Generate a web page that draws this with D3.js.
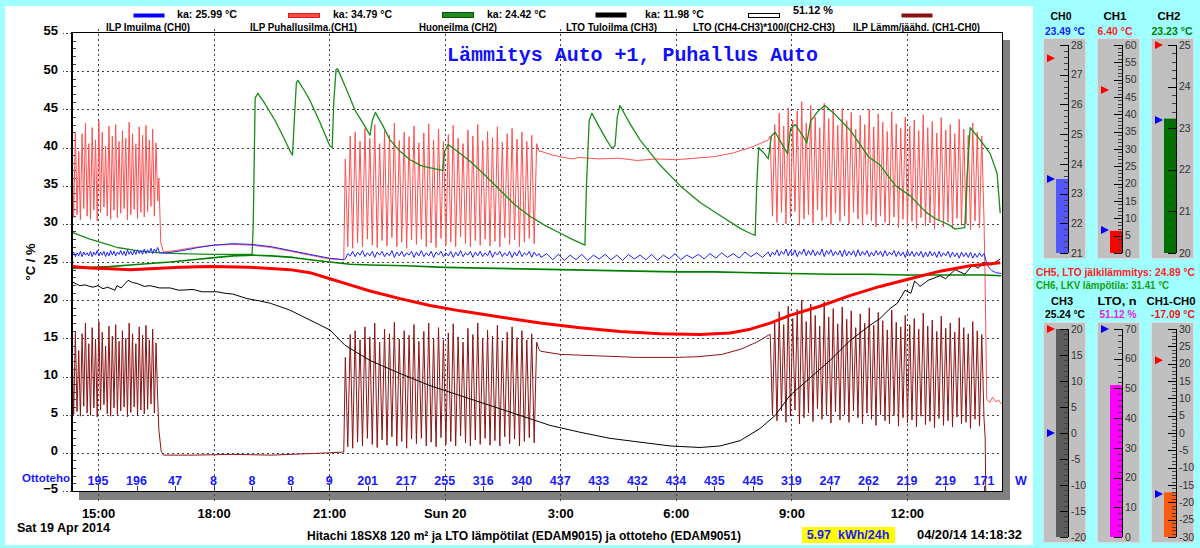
<!DOCTYPE html>
<html><head><meta charset="utf-8">
<script src="https://cdn.jsdelivr.net/npm/d3@7"></script>
<style>
html,body{margin:0;padding:0;background:#a0ffff;}
svg{display:block;font-family:"Liberation Sans",Arial,sans-serif;}
</style></head><body>
<svg id="c" width="1200" height="548"></svg>
<script>
// ---------------- DATA ----------------
const xTickHours = [15, 18, 21, 24, 27, 30, 33, 36];
const xTickLabels = ["15:00", "18:00", "21:00", "Sun 20", "3:00", "6:00", "9:00", "12:00"];
const yTicks = [-5, 0, 5, 10, 15, 20, 25, 30, 35, 40, 45, 50, 55];
const ottoHours = [15,16,17,18,19,20,21,22,23,24,25,26,27,28,29,30,31,32,33,34,35,36,37,38];
const ottoValues = [195,196,47,8,8,8,9,201,217,255,316,340,437,433,432,434,435,445,319,247,262,219,219,171];

const legendLabels = ["ILP Imuilma (CH0)", "ILP Puhallusilma (CH1)", "Huoneilma (CH2)", "LTO Tuloilma (CH3)", "LTO (CH4-CH3)*100/(CH2-CH3)", "ILP Lämm/jäähd. (CH1-CH0)"];
const legendAvg = ["ka: 25.99 °C", "ka: 34.79 °C", "ka: 24.42 °C", "ka: 11.98 °C", "51.12 %", ""];

// CH1 ILP Puhallusilma (oscillating segments: alternating peak / trough)
const ch1SegA = [40.7,30.8, 42.0,31.2, 39.5,30.5, 41.8,32.0, 43.2,31.0, 40.5,30.6, 42.6,31.8, 41.0,30.4, 43.5,31.5, 42.0,32.2, 40.2,31.0, 42.8,30.6, 41.5,31.8, 43.0,30.8, 40.8,31.4, 42.2,32.0, 41.2,30.5, 43.3,31.2, 41.8,31.9, 40.5,30.7, 42.7,31.5, 41.6,30.9, 42.9,31.6, 41.0,32.3, 42.4,31.0, 40.6,33.0];
const ch1Mid1 = [[16.58,36],[16.63,27.5],[16.7,26.3],[17.0,26.5],[17.5,26.9],[18.0,27.2],[18.5,27.3],[19.0,27.2],[19.5,26.9],[20.0,26.4],[20.5,25.9],[21.0,25.4],[21.38,25.3]];
const ch1SegB = [38.5,27.0, 41.5,26.8, 42.0,27.5, 40.8,27.0, 42.5,28.0, 41.2,27.2, 43.0,26.9, 40.5,27.8, 42.2,27.1, 41.6,28.2, 43.2,27.0, 40.9,27.6, 42.0,26.8, 41.4,27.9, 42.8,27.3, 40.6,28.0, 41.9,27.0, 43.1,27.5, 41.0,26.9, 42.4,28.1, 40.8,27.2, 41.7,27.6, 42.9,27.0, 41.2,28.3, 40.5,27.4, 42.3,27.0, 41.5,27.8, 43.0,27.2, 40.9,28.0, 42.1,27.1, 41.3,27.7, 42.7,27.0, 40.7,28.2, 41.8,27.3, 42.5,27.9, 41.1,27.0, 42.0,27.6, 40.8,28.1, 41.6,27.4, 40.5,39.5];
const ch1Mid2 = [[26.5,39.5],[26.8,39.0],[27.0,38.8],[27.3,38.5],[27.5,38.7],[28.0,38.5],[28.5,38.6],[29.0,38.3],[29.5,38.5],[30.0,38.4],[30.5,38.6],[31.0,38.8],[31.5,39.3],[32.0,40.1],[32.4,41.0]];
const ch1SegC = [41.5,31.0, 43.0,30.2, 44.5,31.5, 42.8,30.0, 45.2,30.8, 43.6,31.6, 44.8,29.8, 46.0,30.6, 43.2,31.2, 45.5,30.1, 44.0,31.8, 42.6,30.4, 45.8,30.9, 43.8,29.9, 44.9,31.4, 42.9,30.3, 45.1,31.0, 43.5,30.0, 44.6,31.5, 42.4,30.6, 44.2,29.8, 43.0,31.2, 45.0,30.4, 42.7,29.6, 44.4,31.0, 43.3,30.2, 42.1,29.8, 44.7,30.9, 43.1,29.5, 42.5,30.6, 44.0,29.9, 42.8,30.3, 43.6,29.4, 42.2,30.8, 44.3,29.7, 42.6,30.1, 43.4,29.3, 41.9,30.5, 43.9,29.6, 42.3,30.2, 43.0,29.4, 41.8,30.7, 43.7,29.8, 42.4,30.0, 41.6,29.2, 43.2,30.4, 42.0,29.5, 41.5,30.5];
const ch1End = [[38.03,22],[38.07,7.0],[38.15,6.6],[38.22,7.3],[38.3,6.7],[38.38,6.9],[38.45,6.4]];

// CH1-CH0 ILP Lämm/jäähd.
const difSegA = [14.5,5.0, 15.8,5.4, 13.4,4.8, 15.6,6.1, 17.0,5.2, 14.3,4.9, 16.4,5.9, 14.9,4.7, 17.2,5.6, 15.8,6.3, 14.0,5.1, 16.6,4.8, 15.3,5.9, 16.8,5.0, 14.6,5.5, 16.0,6.0, 15.0,4.7, 17.0,5.3, 15.6,6.0, 14.3,4.9, 16.5,5.6, 15.4,5.1, 16.7,5.7, 14.8,6.4, 16.2,5.2, 14.4,7.0];
const difMid1 = [[16.58,3.0],[16.64,0.2],[16.7,-0.3],[17.5,-0.3],[18.5,-0.2],[19.5,-0.3],[20.5,-0.1],[21.0,0.0],[21.38,0.1]];
const difSegB = [12.5,0.8, 15.5,0.6, 16.0,1.4, 14.8,0.9, 16.5,1.9, 15.2,1.1, 17.0,0.7, 14.5,1.7, 16.2,1.0, 15.6,2.1, 17.1,0.9, 14.9,1.5, 16.0,0.6, 15.4,1.8, 16.8,1.2, 14.6,1.9, 15.9,0.9, 17.0,1.4, 15.0,0.8, 16.4,2.0, 14.8,1.1, 15.7,1.5, 16.9,0.9, 15.2,2.2, 14.5,1.3, 16.3,0.9, 15.5,1.7, 17.0,1.1, 14.9,1.9, 16.1,1.0, 15.3,1.6, 16.7,0.9, 14.7,2.1, 15.8,1.2, 16.5,1.8, 15.1,0.9, 16.0,1.5, 14.8,2.0, 15.6,1.3, 14.5,13.5];
const difMid2 = [[26.5,13.3],[27.0,12.9],[27.5,12.8],[28.0,12.7],[29.0,12.5],[30.0,12.5],[30.6,12.6],[31.2,12.9],[31.7,13.6],[32.1,14.5],[32.4,15.4]];
const difSegC = [15.5,5.0, 17.0,4.2, 18.5,5.5, 16.8,4.0, 19.2,4.8, 17.6,5.6, 18.8,3.8, 20.0,4.6, 17.2,5.2, 19.5,4.1, 18.0,5.8, 16.6,4.4, 19.8,4.9, 17.8,3.9, 18.9,5.4, 16.9,4.3, 19.1,5.0, 17.5,4.0, 18.6,5.5, 16.4,4.6, 18.2,3.8, 17.0,5.2, 19.0,4.4, 16.7,3.6, 18.4,5.0, 17.3,4.2, 16.1,3.8, 18.7,4.9, 17.1,3.5, 16.5,4.6, 18.0,3.9, 16.8,4.3, 17.6,3.4, 16.2,4.8, 18.3,3.7, 16.6,4.1, 17.4,3.3, 15.9,4.5, 17.9,3.6, 16.3,4.2, 17.0,3.4, 15.8,4.7, 17.7,3.8, 16.4,4.0, 15.6,3.2, 17.2,4.4, 16.0,3.5, 15.5,4.5];
const difEnd = [[38.03,2.0],[38.07,-17.0],[38.45,-17.1]];

// CH0 ILP Imuilma
const ch0SegA = [25.9,26.3, 25.7,26.2, 25.8,26.4, 25.7,26.3, 25.9,26.2, 25.8,26.4, 25.7,26.3, 25.9,26.5, 25.8,26.3, 25.9,26.4, 25.7,26.3, 25.8,26.5, 25.9,26.4, 25.8,26.3, 26.0,26.5, 25.9,26.4, 25.8,26.6, 26.0,26.4, 25.9,26.5, 26.0,26.6, 26.1,26.5, 26.0,26.7, 26.1,26.6, 26.2,26.8, 26.1,26.7, 26.3,26.9];
const ch0Mid1 = [[16.6,26.2],[16.8,26.2],[17.2,26.5],[17.6,26.9],[18.0,27.2],[18.5,27.4],[19.0,27.3],[19.5,27.0],[20.0,26.5],[20.5,26.0],[21.0,25.5],[21.38,25.3]];
const ch0SegB = [25.4,26.1, 25.8,26.4, 25.7,26.3, 25.9,26.5, 25.7,26.2, 25.8,26.4, 25.6,26.3, 25.9,26.4, 25.7,26.2, 25.8,26.5, 25.6,26.3, 25.8,26.4, 25.7,26.2, 25.9,26.4, 25.6,26.3, 25.8,26.5, 25.7,26.2, 25.8,26.4, 25.6,26.3, 25.9,26.4, 25.7,26.2, 25.8,26.4, 25.6,26.3, 25.8,26.5, 25.7,26.2, 25.9,26.4, 25.6,26.3, 25.8,26.4, 25.7,26.2, 25.8,26.5, 25.6,26.3, 25.9,26.4, 25.7,26.2, 25.8,26.4, 25.6,26.3, 25.8,26.5, 25.7,26.2, 25.9,26.4, 25.6,26.3, 25.8,26.1];
const ch0Mid2 = [25.6,26.1, 25.3,26.0, 25.2,25.9, 25.3,26.0, 25.2,25.9, 25.4,26.0, 25.3,25.9, 25.2,26.0, 25.4,25.9, 25.3,26.0, 25.2,25.9, 25.4,26.1, 25.3,25.9, 25.5,26.0, 25.4,26.1, 25.5,26.2, 25.6,26.1, 25.5,26.3, 25.7,26.2, 25.6,26.3];
const ch0SegC = [25.7,26.3, 25.9,26.6, 25.8,26.4, 26.0,26.7, 25.8,26.5, 25.9,26.6, 25.7,26.4, 26.0,26.7, 25.8,26.5, 25.9,26.6, 25.8,26.4, 25.9,26.7, 25.7,26.5, 26.0,26.6, 25.8,26.4, 25.9,26.5, 25.7,26.6, 25.8,26.4, 25.9,26.5, 25.7,26.6, 25.8,26.4, 25.9,26.5, 25.7,26.3, 25.8,26.5, 25.9,26.4, 25.7,26.5, 25.8,26.3, 25.9,26.5, 25.7,26.4, 25.8,26.3, 25.6,26.5, 25.8,26.4, 25.7,26.3, 25.8,26.4, 25.6,26.3, 25.7,26.4, 25.8,26.3, 25.6,26.4, 25.7,26.2, 25.8,26.4, 25.6,26.3, 25.7,26.2, 25.5,26.3, 25.7,26.2, 25.6,26.3, 25.5,26.1, 25.6,26.2, 25.7,26.1];
const ch0End = [[38.05,25.2],[38.12,24.3],[38.2,23.9],[38.3,23.6],[38.45,23.5]];

// CH2 Huoneilma
const ch2Data = [[14.325,24.2],[14.8,24.3],[15.31,24.4],[15.83,24.6],[16.35,24.8],[16.87,25.0],[17.47,25.3],[18.09,25.6],[18.5,25.8],[19.02,25.9],[19.5,25.8],[20.06,25.6],[20.5,25.3],[21.02,25.0],[21.54,24.7],[22.06,24.6],[23.0,24.5],[24.0,24.3],[25.0,24.2],[26.0,24.1],[27.0,24.0],[28.0,23.9],[29.0,23.8],[30.0,23.7],[31.0,23.7],[32.0,23.6],[33.0,23.5],[34.0,23.4],[35.0,23.4],[36.0,23.3],[37.0,23.3],[38.0,23.3],[38.45,23.2]];

// CH6 LKV lämpötila
const ch6Data = [[14.325,28.9],[14.53,28.5],[14.79,28.0],[15.05,27.6],[15.31,27.2],[15.5,26.9],[16.01,26.5],[16.35,26.3],[16.61,26.2],[17.13,26.1],[17.91,26.0],[18.5,26.0],[19.0,26.0],[19.03,30],[19.08,46.5],[19.15,47.1],[19.3,46.0],[19.6,43.5],[19.8,41.5],[19.98,39.6],[20.05,39.0],[20.1,44],[20.15,48.5],[20.19,48.8],[20.35,47.5],[20.5,46.2],[20.76,43.3],[21.02,40.2],[21.08,40.0],[21.12,46],[21.18,50.2],[21.22,50.3],[21.41,48.1],[21.67,44.9],[21.95,42.6],[22.06,41.6],[22.12,43.5],[22.2,44.6],[22.4,42.8],[22.58,41.0],[22.84,39.5],[23.1,38.4],[23.4,37.6],[23.75,37.2],[23.95,37.0],[24.0,39.5],[24.09,40.4],[24.3,39.6],[24.66,38.2],[25.0,36.6],[25.44,34.4],[25.8,32.6],[26.21,31.0],[26.6,29.8],[26.99,28.8],[27.3,28.0],[27.64,27.2],[27.68,35],[27.75,43.5],[27.82,44.5],[28.0,42.8],[28.2,41.0],[28.34,39.9],[28.42,40.2],[28.48,44],[28.55,45.5],[28.8,43.2],[29.07,41.0],[29.59,37.7],[30.11,35.0],[30.63,32.8],[31.15,31.1],[31.67,29.4],[31.95,28.7],[32.06,28.5],[32.1,35],[32.15,40.0],[32.3,39.2],[32.4,38.5],[32.48,41.5],[32.58,42.0],[32.75,40.5],[32.9,39.2],[32.98,42.5],[33.1,43.0],[33.3,41.5],[33.4,40.6],[33.5,43.5],[33.7,44.8],[33.87,45.5],[34.1,44.5],[34.52,42.3],[35.0,38.8],[35.3,37.7],[35.7,35.0],[36.08,33.7],[36.5,31.5],[36.73,30.7],[37.12,29.8],[37.25,29.3],[37.5,29.5],[37.56,36.0],[37.64,42.6],[37.9,41.0],[38.16,39.2],[38.34,36.6],[38.42,31.4]];

// CH3 LTO Tuloilma
const ch3Data = [[14.325,22.4],[14.45,22.1],[14.53,21.9],[14.66,22.0],[14.79,21.8],[14.87,21.7],[15.0,21.9],[15.13,21.5],[15.25,21.7],[15.44,21.3],[15.49,21.9],[15.6,21.6],[15.78,22.6],[15.9,22.3],[16.01,22.2],[16.2,21.8],[16.35,21.9],[16.6,21.6],[16.87,21.6],[17.1,21.3],[17.47,21.4],[17.7,21.1],[18.09,21.1],[18.3,20.9],[18.5,20.8],[18.87,20.2],[19.2,19.9],[19.47,19.6],[19.98,18.7],[20.5,17.4],[21.02,16.1],[21.41,14.1],[22.06,12.1],[22.84,10.4],[23.62,8.8],[24.4,7.5],[25.18,6.2],[25.96,4.9],[26.73,3.6],[27.51,2.7],[28.29,1.9],[29.07,1.4],[29.85,0.9],[30.63,0.7],[31.15,0.9],[31.67,1.6],[32.19,3.2],[32.58,4.9],[32.96,7.5],[33.48,9.8],[34.0,12.1],[34.52,14.7],[35.04,16.7],[35.3,17.6],[35.56,18.9],[35.75,19.6],[35.95,21.3],[36.1,20.9],[36.2,22.5],[36.34,21.8],[36.55,22.6],[36.86,23.2],[37.0,22.8],[37.25,24.0],[37.5,23.4],[37.7,24.6],[37.85,24.2],[38.0,24.9],[38.2,24.6],[38.42,25.4]];

// CH5 LTO jälkilämmitys
const ch5Data = [[14.325,24.4],[14.79,24.2],[15.31,24.1],[15.83,24.0],[16.35,24.1],[17.13,24.3],[17.91,24.4],[18.95,24.3],[19.98,24.0],[20.5,23.6],[21.02,22.8],[21.54,22.0],[22.06,21.2],[22.84,20.2],[23.62,19.3],[24.4,18.6],[25.44,17.8],[26.48,17.0],[27.51,16.4],[28.55,15.9],[29.59,15.6],[30.63,15.5],[31.41,15.7],[31.93,16.2],[32.45,17.0],[32.96,18.0],[33.74,19.2],[34.52,20.6],[35.3,21.8],[36.08,22.8],[36.86,23.8],[37.64,24.5],[38.42,24.9]];

// Gauges
const gaugeNames = ["CH0", "CH1", "CH2", "CH3", "LTO, n", "CH1-CH0"];
const gaugeValueText = ["23.49 °C", "6.40 °C", "23.23 °C", "25.24 °C", "51.12 %", "-17.09 °C"];
const gaugeValues = [23.49, 6.40, 23.23, 25.24, 51.12, -17.09];
const gaugeMin = [21, 0, 20, -20, 0, -30];
const gaugeMax = [28, 60, 25, 20, 70, 30];
const gaugeMajor = [1, 5, 1, 5, 10, 5];
const gaugeMinor = [0.2, 1, 0.2, 1, 2, 1];
const gaugeHiMark = [27.55, 47, 25, 20, null, 21];
const gaugeLoMark = [23.49, 6.6, 23.2, 0, 70, -17.6];
const extraTexts = ["CH5, LTO jälkilämmitys: 24.89 °C", "CH6, LKV lämpötila: 31.41 °C"];

// ---------------- DRAW ----------------
const svg = d3.select("#c");
svg.append("rect").attr("width", 1200).attr("height", 548).attr("fill", "#a0ffff");
svg.append("rect").attr("x", 5).attr("y", 6).attr("width", 1028).attr("height", 539).attr("fill", "#ffffff");

const X0 = 72, X1 = 1002, Y0 = 33, Y1 = 491;
const x = d3.scaleLinear().domain([14.325, 38.467]).range([X0, X1]);
const y = d3.scaleLinear().domain([-5, 55]).range([Y1, Y0]);

function seg(t0, t1, vals) {
  const n = vals.length;
  return vals.map((v, i) => [t0 + (t1 - t0) * i / (n - 1), v]);
}

// shadow
svg.append("rect").attr("x", X1 + 1).attr("y", 40).attr("width", 7).attr("height", 460).attr("fill", "#808080");
svg.append("rect").attr("x", 79).attr("y", Y1 + 1).attr("width", X1 - 71).attr("height", 8).attr("fill", "#808080");

// grid
const grid = svg.append("g").attr("shape-rendering", "crispEdges");
grid.selectAll(".hg").data(yTicks.filter(v => v > -5 && v < 55)).join("line")
  .attr("x1", X0).attr("x2", X1).attr("y1", d => Math.round(y(d)) + 0.5).attr("y2", d => Math.round(y(d)) + 0.5)
  .attr("stroke", "#404040").attr("stroke-dasharray", "2,3");
grid.selectAll(".vg").data(xTickHours).join("line")
  .attr("x1", d => Math.round(x(d)) + 0.5).attr("x2", d => Math.round(x(d)) + 0.5).attr("y1", 29).attr("y2", 503)
  .attr("stroke", "#404040").attr("stroke-dasharray", "2,3");
grid.selectAll(".ht").data(ottoHours).join("line")
  .attr("x1", d => Math.round(x(d)) + 0.5).attr("x2", d => Math.round(x(d)) + 0.5).attr("y1", Y1 - 5).attr("y2", Y1)
  .attr("stroke", "#404040");
grid.selectAll(".ym").data(d3.range(-4, 55, 1).filter(v => v % 5 !== 0)).join("line")
  .attr("x1", X0 + 1).attr("x2", X0 + 4).attr("y1", d => Math.round(y(d)) + 0.5).attr("y2", d => Math.round(y(d)) + 0.5)
  .attr("stroke", "#404040");

// series
const plot = svg.append("g");
svg.append("clipPath").attr("id", "clip").append("rect").attr("x", X0).attr("y", Y0).attr("width", X1 - X0).attr("height", Y1 - Y0);
plot.attr("clip-path", "url(#clip)");
const line = d3.line().x(d => x(d[0])).y(d => y(d[1]));

const difData = [].concat(seg(14.325, 16.55, difSegA), difMid1, seg(21.42, 26.45, difSegB), difMid2, seg(32.45, 38.0, difSegC), difEnd);
const ch1Data = [].concat(seg(14.325, 16.55, ch1SegA), ch1Mid1, seg(21.42, 26.45, ch1SegB), ch1Mid2, seg(32.45, 38.0, ch1SegC), ch1End);
const ch0Data = [].concat(seg(14.325, 16.55, ch0SegA), ch0Mid1, seg(21.42, 26.45, ch0SegB), seg(26.5, 32.4, ch0Mid2), seg(32.45, 38.0, ch0SegC), ch0End);

const series = [
  {d: difData, c: "#8e1414", w: 1},
  {d: ch1Data, c: "#ff5050", w: 1},
  {d: ch6Data, c: "#1a8c1a", w: 1.3},
  {d: ch2Data, c: "#008000", w: 1.6},
  {d: ch0Data, c: "#2020ff", w: 1},
  {d: ch3Data, c: "#000000", w: 1},
  {d: ch5Data, c: "#ff0000", w: 3}
];
plot.selectAll("path").data(series).join("path")
  .attr("d", s => line(s.d)).attr("fill", "none")
  .attr("stroke", s => s.c).attr("stroke-width", s => s.w).attr("stroke-linejoin", "round");

// frame
svg.append("rect").attr("x", X0 + 0.5).attr("y", Y0 - 0.5).attr("width", X1 - X0).attr("height", Y1 - Y0 + 1)
  .attr("fill", "none").attr("stroke", "#000").attr("shape-rendering", "crispEdges");
svg.append("line").attr("x1", X0).attr("x2", X0).attr("y1", Y0 - 1).attr("y2", Y1 + 1).attr("stroke", "#000").attr("stroke-width", 2);

// y axis
const yAxis = d3.axisLeft(y).tickValues(yTicks).tickSize(9).tickPadding(5).tickFormat(d3.format("d"));
const gy = svg.append("g").attr("transform", `translate(${X0},0)`).call(yAxis);
gy.select(".domain").remove();
gy.selectAll("line").attr("stroke", "#404040").attr("stroke-dasharray", "2,2").attr("shape-rendering", "crispEdges");
gy.selectAll("text").attr("dy", "0.15em").attr("font-size", 13).attr("font-weight", "bold").attr("fill", "#000").attr("font-family", "Liberation Sans, Arial");
svg.append("text").attr("transform", "translate(35,262) rotate(-90)").attr("text-anchor", "middle")
  .attr("font-size", 13).attr("font-weight", "bold").text("°C / %");

// x axis
const xAxis = d3.axisBottom(x).tickValues(xTickHours).tickSize(0).tickFormat((d, i) => xTickLabels[i]);
const gx = svg.append("g").attr("transform", `translate(0,${Y1})`).call(xAxis);
gx.select(".domain").remove();
gx.selectAll("text").attr("y", 22).attr("dy", "0.35em").attr("font-size", 13).attr("font-weight", "bold").attr("fill", "#000").attr("font-family", "Liberation Sans, Arial");

// ottoteho row
svg.append("text").attr("x", 70).attr("y", 478).attr("dy", "0.35em").attr("text-anchor", "end")
  .attr("font-size", 11.5).attr("font-weight", "bold").attr("fill", "#1a1aff").text("Ottoteho");
svg.selectAll(".otto").data(ottoValues).join("text")
  .attr("x", (d, i) => x(ottoHours[i])).attr("y", 481).attr("dy", "0.35em").attr("text-anchor", "middle")
  .attr("font-size", 12.5).attr("font-weight", "bold").attr("fill", "#1a1aff").text(d => d);
svg.append("text").attr("x", 1021).attr("y", 481).attr("dy", "0.35em").attr("text-anchor", "middle")
  .attr("font-size", 12.5).attr("font-weight", "bold").attr("fill", "#1a1aff").text("W");

// legend
const swX = [133, 288, 442, 595, 748, 901];
const swStyle = [
  {f: "#0000ff", s: "none", h: 4, y: 13},
  {f: "#ff4848", s: "#d02020", h: 4, y: 13},
  {f: "#1e8c1e", s: "#0e4e0e", h: 5, y: 12},
  {f: "#000000", s: "none", h: 5, y: 12},
  {f: "#ffffff", s: "#000000", h: 4, y: 13},
  {f: "#8b1010", s: "none", h: 4, y: 13}
];
const lblX = [106, 250, 419, 566, 693, 853];
const lblW = [84, 107, 78, 91, 142, 127];
const avgX = [177, 333, 487, 645, 793];
const avgW = [60, 59, 59, 59, 40];
const lg = svg.append("g");
legendLabels.forEach((l, i) => {
  const st = swStyle[i];
  lg.append("rect").attr("x", swX[i] + 0.5).attr("y", st.y + 0.5).attr("width", 31).attr("height", st.h)
    .attr("fill", st.f).attr("stroke", st.s);
  lg.append("text").attr("x", lblX[i]).attr("y", 27).attr("dy", "0.35em").attr("font-size", 10.5).attr("font-weight", "bold")
    .attr("textLength", lblW[i]).attr("lengthAdjust", "spacingAndGlyphs").text(l);
  if (legendAvg[i]) {
    lg.append("text").attr("x", avgX[i]).attr("y", i === 4 ? 10 : 14).attr("dy", "0.35em").attr("font-size", 11).attr("font-weight", "bold")
      .attr("textLength", avgW[i]).attr("lengthAdjust", "spacingAndGlyphs").text(legendAvg[i]);
  }
});

// title
svg.append("text").attr("x", 447).attr("y", 54).attr("dy", "0.35em").attr("font-family", "Liberation Mono, Courier New, monospace")
  .attr("font-size", 20).attr("font-weight", "bold").attr("fill", "#1010ff")
  .attr("textLength", 371).attr("lengthAdjust", "spacingAndGlyphs").text("Lämmitys Auto +1, Puhallus Auto");

// bottom texts
svg.append("text").attr("x", 17).attr("y", 528).attr("dy", "0.35em").attr("font-size", 12.5).attr("font-weight", "bold")
  .attr("textLength", 93).attr("lengthAdjust", "spacingAndGlyphs").text("Sat 19 Apr 2014");
svg.append("text").attr("x", 307).attr("y", 536).attr("dy", "0.35em").attr("font-size", 12.5).attr("font-weight", "bold")
  .attr("textLength", 434).attr("lengthAdjust", "spacingAndGlyphs")
  .text("Hitachi 18SX8 120 m² ja LTO lämpötilat (EDAM9015) ja ottoteho (EDAM9051)");
svg.append("rect").attr("x", 802).attr("y", 527).attr("width", 93).attr("height", 16).attr("fill", "#ffff00");
svg.append("text").attr("x", 848).attr("y", 535).attr("dy", "0.35em").attr("text-anchor", "middle").attr("font-size", 12.5)
  .attr("font-weight", "bold").attr("fill", "#1a1aff").attr("xml:space", "preserve").text("5.97  kWh/24h");
svg.append("text").attr("x", 917).attr("y", 535).attr("dy", "0.35em").attr("font-size", 12.5).attr("font-weight", "bold")
  .attr("textLength", 105).attr("lengthAdjust", "spacingAndGlyphs").text("04/20/14 14:18:32");

// ---------------- GAUGES ----------------
const gaugeValColor = ["#1a1aff", "#ff1a1a", "#008000", "#000000", "#e01ee0", "#ee1111"];
const gaugeFill = ["#5656ff", "#ff0000", "#007000", "#5c5c5c", "#ff00ff", "#ff5a14"];
const colX = [1043, 1097, 1151];
const titleCx = [1061, 1115, 1169, 1062, 1117, 1171];
const titleW = [21, 23, 23, 22, 39, 49];
const valCx = [1065, 1115, 1172, 1065, 1118, 1173];
const valW = [40, 35, 41, 40, 37, 44];
gaugeNames.forEach((name, i) => {
  const row = i < 3 ? 0 : 1, bx = colX[i % 3];
  const sTop = row ? 329 : 45, sBot = row ? 537 : 253;
  const gs = d3.scaleLinear().domain([gaugeMin[i], gaugeMax[i]]).range([sBot, sTop]);
  const g = svg.append("g");
  g.append("text").attr("x", titleCx[i]).attr("y", row ? 301 : 16).attr("dy", "0.35em").attr("text-anchor", "middle")
    .attr("font-size", 11.5).attr("font-weight", "bold")
    .attr("textLength", titleW[i]).attr("lengthAdjust", "spacingAndGlyphs").text(name);
  g.append("text").attr("x", valCx[i]).attr("y", row ? 314 : 31).attr("dy", "0.35em").attr("text-anchor", "middle")
    .attr("font-size", 10.5).attr("font-weight", "bold").attr("fill", gaugeValColor[i])
    .attr("textLength", valW[i]).attr("lengthAdjust", "spacingAndGlyphs").text(gaugeValueText[i]);
  g.append("rect").attr("x", bx + 0.5).attr("y", sTop - 6.5).attr("width", 42).attr("height", sBot - sTop + 12)
    .attr("fill", "#c0c0c0").attr("stroke", "#dcdcdc");
  const v = Math.max(gaugeMin[i], Math.min(gaugeMax[i], gaugeValues[i]));
  g.append("rect").attr("x", bx + 13).attr("y", gs(v)).attr("width", 12).attr("height", sBot - gs(v)).attr("fill", gaugeFill[i]);
  const minors = d3.range(gaugeMin[i], gaugeMax[i] + 1e-9, gaugeMinor[i]);
  const isMajor = d => Math.abs(d / gaugeMajor[i] - Math.round(d / gaugeMajor[i])) < 1e-6;
  g.selectAll(".mt").data(minors).join("line")
    .attr("x1", d => isMajor(d) ? bx + 17 : bx + 21)
    .attr("x2", bx + 25).attr("y1", d => Math.round(gs(d)) + 0.5).attr("y2", d => Math.round(gs(d)) + 0.5)
    .attr("stroke", d => isMajor(d) ? "#000" : "#404040")
    .attr("shape-rendering", "crispEdges");
  g.append("line").attr("x1", bx + 25.5).attr("x2", bx + 25.5).attr("y1", sTop).attr("y2", sBot).attr("stroke", "#000");
  const majors = d3.range(gaugeMin[i], gaugeMax[i] + 1e-9, gaugeMajor[i]);
  g.selectAll(".ml").data(majors).join("text")
    .attr("x", bx + 28).attr("y", d => gs(d)).attr("dy", "0.35em").attr("font-size", 10.5).attr("fill", "#333").text(d => d);
  const tri = (val, col) => {
    const ty = gs(val);
    g.append("path").attr("d", `M${bx + 4},${ty - 4}L${bx + 12},${ty}L${bx + 4},${ty + 4}Z`).attr("fill", col);
  };
  if (gaugeHiMark[i] !== null) tri(gaugeHiMark[i], "#ff0000");
  if (gaugeLoMark[i] !== null) tri(gaugeLoMark[i], "#0000ff");
});
svg.append("text").attr("x", 1036).attr("y", 272).attr("dy", "0.35em").attr("font-size", 10.2).attr("font-weight", "bold")
  .attr("fill", "#ff2020").attr("textLength", 159).attr("lengthAdjust", "spacingAndGlyphs").text(extraTexts[0]);
svg.append("text").attr("x", 1036).attr("y", 285).attr("dy", "0.35em").attr("font-size", 10.2).attr("font-weight", "bold")
  .attr("fill", "#10a010").attr("textLength", 133).attr("lengthAdjust", "spacingAndGlyphs").text(extraTexts[1]);
</script></body></html>
